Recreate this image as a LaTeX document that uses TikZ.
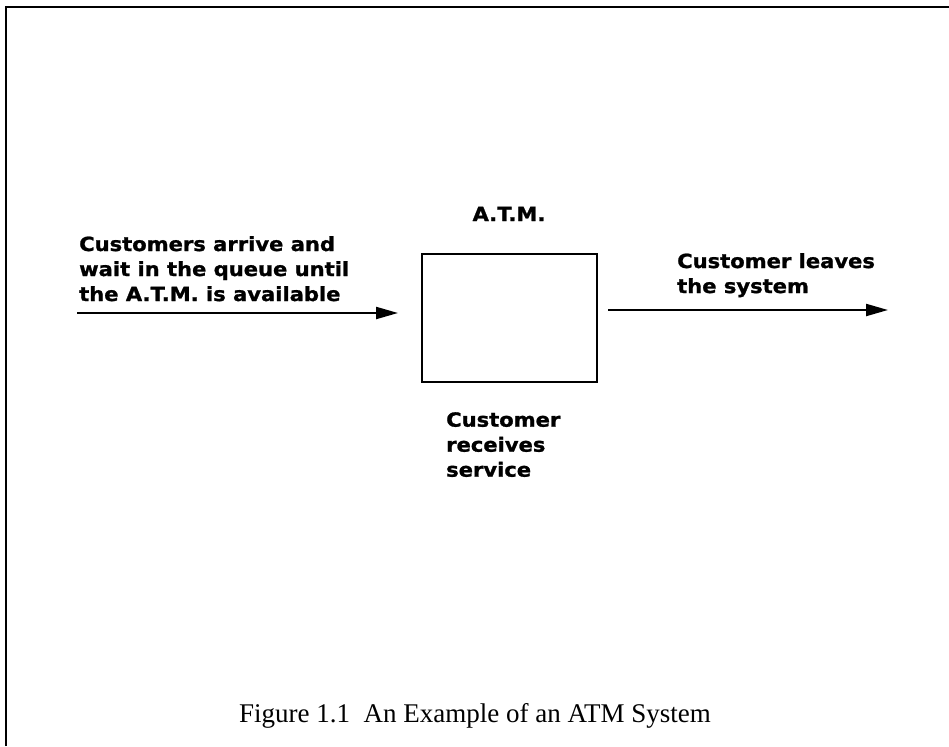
\documentclass[tikz,border=0pt]{standalone}
\usepackage{fontspec}
\setmainfont{Liberation Serif}
\newfontfamily\diagfont[FakeStretch=1.08,FakeBold=1.2]{DejaVu Sans Bold}
\usetikzlibrary{arrows.meta}
\tikzset{
  lbl/.style={font=\diagfont\fontsize{19.5}{25}\selectfont, inner sep=0pt, align=left},
  flow/.style={line width=2.2pt, -{Triangle[length=22pt,width=12pt]}},
  frame/.style={line width=2.5pt},
  boxst/.style={draw, line width=2pt, minimum width=175pt, minimum height=128pt, inner sep=0pt}
}
\begin{document}
\begin{tikzpicture}[x=1pt,y=-1pt]
\useasboundingbox (0,0) rectangle (949,746);
% frame (top and left only)
\draw[frame] (6,746) -- (6,7) -- (949,7);
% box
\node[boxst] (atm) at (509.5,318) {};
\node[lbl, anchor=base] (atmlbl) at (509,221) {A.T.M.};
% left text and arrow
\node[lbl, anchor=north west] (intext) at (79,236) {Customers arrive and\\wait in the queue until\\the A.T.M. is available};
\coordinate (inA) at (77,313);
\coordinate (inB) at (398,313);
\draw[flow] (inA) -- (inB);
% right text and arrow
\node[lbl, anchor=north west] (outtext) at (677,253) {Customer leaves\\the system};
\coordinate (outA) at (608,310);
\coordinate (outB) at (888,310);
\draw[flow] (outA) -- (outB);
% below box
\node[lbl, anchor=north west] (svc) at (446,412) {Customer\\receives\\service};
% caption
\node[font=\fontsize{27}{30}\selectfont, anchor=base, inner sep=0pt] (cap) at (475,722) {Figure 1.1\ \ An Example of an ATM System};
\end{tikzpicture}
\end{document}
